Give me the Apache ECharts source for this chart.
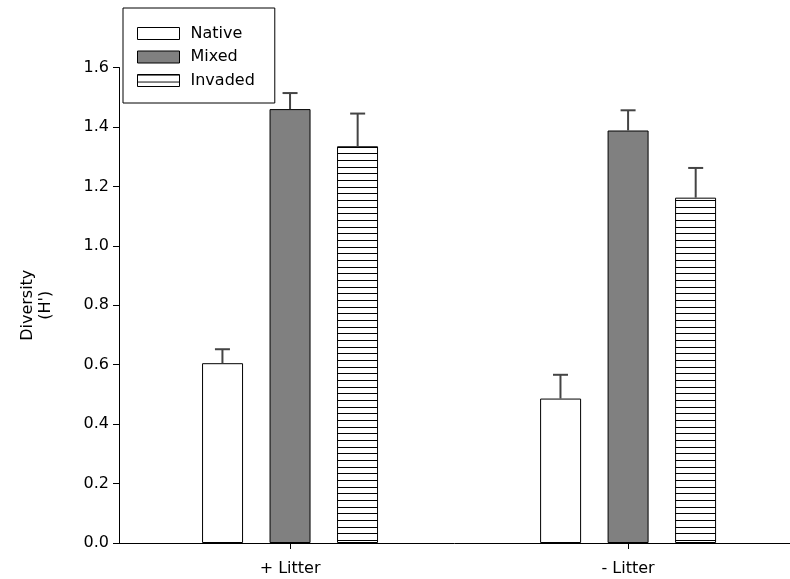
<!DOCTYPE html>
<html>
<head>
<meta charset="utf-8">
<script src="https://cdn.jsdelivr.net/npm/echarts@6/dist/echarts.min.js"></script>
<style>html,body{margin:0;padding:0;background:#fff;}#c{width:790px;height:579px;}</style>
</head>
<body>
<div id="c"></div>
<script>
var categories = ['+ Litter', '- Litter'];
var seriesNames = ['Native', 'Mixed', 'Invaded'];
var nativeVals = [0.605, 0.486];
var mixedVals = [1.46, 1.388];
var invadedVals = [1.335, 1.162];
var nativeErr = [0.047, 0.08];
var mixedErr = [0.054, 0.068];
var invadedErr = [0.11, 0.10];
var yTicks = [0.0, 0.2, 0.4, 0.6, 0.8, 1.0, 1.2, 1.4, 1.6];

var FONT = '"DejaVu Sans", "Liberation Sans", Arial, sans-serif';
var FS = 16;

// horizontal hatch pattern
var pc = document.createElement('canvas');
pc.width = 10; pc.height = 20;
var pctx = pc.getContext('2d');
pctx.fillStyle = '#fff'; pctx.fillRect(0, 0, 10, 20);
pctx.fillStyle = '#000';
[0, 7, 13].forEach(function (y) { pctx.fillRect(0, y, 10, 1); });
var hatch = { image: pc, repeat: 'repeat' };

var chart = echarts.init(document.getElementById('c'), null, { renderer: 'canvas' });

function pairs(vals) { return vals.map(function (v, i) { return [i, v]; }); }

function errSeries(vals, errs, offsetFrac, name) {
  var data = vals.map(function (v, i) { return [i, v, errs[i]]; });
  return {
    type: 'custom',
    name: name + ' err',
    data: data,
    z: 5,
    renderItem: function (params, api) {
      var i = api.value(0);
      var unit = api.size([1, 0])[0];
      var p0 = api.coord([i, api.value(1)]);
      var p1 = api.coord([i, api.value(1) + api.value(2)]);
      var x = p0[0] + unit * offsetFrac;
      var half = 7.5;
      return {
        type: 'group',
        children: [
          { type: 'line', shape: { x1: x, y1: p0[1], x2: x, y2: p1[1] }, style: { stroke: '#444', lineWidth: 2 } },
          { type: 'line', shape: { x1: x - half, y1: p1[1], x2: x + half, y2: p1[1] }, style: { stroke: '#444', lineWidth: 2 } }
        ]
      };
    }
  };
}

var option = {
  animation: false,
  backgroundColor: '#fff',
  textStyle: { fontFamily: FONT },
  grid: { left: 119, right: 0, top: 67.5, bottom: 36, containLabel: false },
  legend: {
    data: seriesNames,
    orient: 'vertical',
    left: 123, top: 8,
    padding: [17.5, 20, 14.5, 14],
    itemWidth: 42, itemHeight: 12, itemGap: 7.5,
    icon: 'rect',
    borderColor: '#000', borderWidth: 1,
    backgroundColor: '#fff',
    textStyle: { fontSize: FS, color: '#000', fontFamily: FONT, lineHeight: 16, padding: [0, 0, 0, 6] },
    itemStyle: { borderColor: '#000', borderWidth: 1 }
  },
  xAxis: {
    type: 'value',
    min: -0.506, max: 1.479,
    axisLine: { show: true, onZero: false, lineStyle: { color: '#000', width: 1 } },
    axisTick: { show: true, customValues: [0, 1], length: 6, lineStyle: { color: '#000' } },
    axisLabel: {
      show: true, customValues: [0, 1], color: '#000', fontSize: FS, margin: 18, fontFamily: FONT,
      formatter: function (v) { return categories[Math.round(v)] || ''; }
    },
    splitLine: { show: false }
  },
  yAxis: {
    type: 'value',
    min: 0, max: 1.6, interval: 0.2,
    name: 'Diversity\n(H\')',
    nameLocation: 'middle',
    nameGap: 64,
    nameRotate: 90,
    nameTextStyle: { fontSize: FS, color: '#000', fontFamily: FONT, lineHeight: 18 },
    axisLine: { show: true, onZero: false, lineStyle: { color: '#000', width: 1 } },
    axisTick: { show: true, length: 6, lineStyle: { color: '#000' } },
    axisLabel: {
      color: '#000', fontSize: FS, margin: 10, fontFamily: FONT,
      formatter: function (v) {
        for (var k = 0; k < yTicks.length; k++) { if (Math.abs(yTicks[k] - v) < 1e-6) return yTicks[k].toFixed(1); }
        return '';
      }
    },
    splitLine: { show: false }
  },
  series: [
    { type: 'bar', name: 'Native', data: pairs(nativeVals), barWidth: 41, barGap: '64.6%',
      itemStyle: { color: '#fff', borderColor: '#000', borderWidth: 1 } },
    { type: 'bar', name: 'Mixed', data: pairs(mixedVals), barWidth: 41, barGap: '64.6%',
      itemStyle: { color: '#808080', borderColor: '#000', borderWidth: 1 } },
    { type: 'bar', name: 'Invaded', data: pairs(invadedVals), barWidth: 41, barGap: '64.6%',
      itemStyle: { color: hatch, borderColor: '#000', borderWidth: 1 } },
    errSeries(nativeVals, nativeErr, -0.2, 'Native'),
    errSeries(mixedVals, mixedErr, 0, 'Mixed'),
    errSeries(invadedVals, invadedErr, 0.2, 'Invaded')
  ]
};
chart.setOption(option);
</script>
</body>
</html>
